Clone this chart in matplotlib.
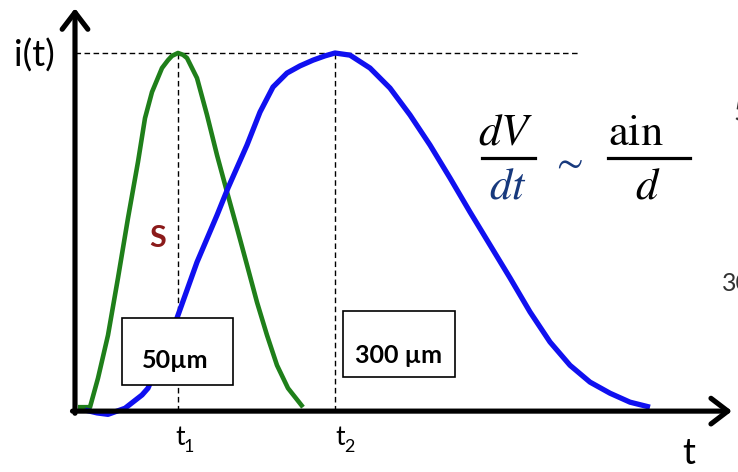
import numpy as np
import matplotlib
matplotlib.use('Agg')
import matplotlib.pyplot as plt
from matplotlib.patches import Rectangle

plt.rcParams['font.family'] = ['Lato', 'DejaVu Sans']
plt.rcParams['mathtext.fontset'] = 'stix'

# thin detector pulse (50 um)
t_thin = [0.03, 0.15, 0.23, 0.33, 0.43, 0.53, 0.63, 0.70, 0.77, 0.87, 0.93,
          0.97, 1.03, 1.08, 1.12, 1.22, 1.32, 1.42, 1.52, 1.62, 1.72, 1.82,
          1.92, 2.02, 2.13, 2.28]
i_thin = [0.011, 0.011, 0.092, 0.212, 0.372, 0.539, 0.696, 0.818, 0.891,
          0.958, 0.980, 0.992, 1.0, 0.995, 0.986, 0.930, 0.827, 0.715, 0.612,
          0.511, 0.408, 0.304, 0.212, 0.128, 0.064, 0.011]

# thick detector pulse (300 um)
t_thick = [0.10, 0.22, 0.33, 0.50, 0.67, 0.73, 0.87, 1.02, 1.22, 1.42, 1.53,
           1.72, 1.85, 1.98, 2.12, 2.25, 2.38, 2.50, 2.60, 2.75, 2.95, 3.15,
           3.35, 3.55, 3.75, 3.95, 4.15, 4.35, 4.55, 4.75, 4.95, 5.15, 5.35,
           5.55, 5.75]
i_thick = [0.003, -0.005, -0.009, 0.008, 0.045, 0.064, 0.156, 0.260, 0.416,
           0.547, 0.623, 0.743, 0.835, 0.905, 0.944, 0.964, 0.980, 0.992, 1.0,
           0.994, 0.958, 0.902, 0.827, 0.743, 0.651, 0.556, 0.464, 0.372,
           0.277, 0.193, 0.128, 0.081, 0.050, 0.025, 0.011]

t1 = 1.03
t2 = 2.60
peak = 1.0

fig = plt.figure(figsize=(7.38, 4.72), dpi=100)
ax = fig.add_axes([0, 0, 1, 1])
ax.set_xlim(-0.75, 6.63)
ax.set_ylim(-0.170, 1.148)
ax.axis('off')

# axes with arrows
arrow = dict(arrowstyle='->,head_length=0.55,head_width=0.42', lw=3.7,
             color='black', mutation_scale=22, shrinkA=0, shrinkB=0)
ax.annotate('', xy=(6.57, 0), xytext=(-0.025, 0), arrowprops=arrow, zorder=3)
ax.annotate('', xy=(0, 1.125), xytext=(0, -0.006), arrowprops=arrow, zorder=3)

# dashed guides
dash = dict(color='black', lw=1.0, ls=(0, (4, 2.5)), zorder=1)
ax.plot([0, 5.03], [peak, peak], **dash)
ax.plot([t1, t1], [0, peak], **dash)
ax.plot([t2, t2], [0, peak], **dash)

ax.plot(t_thin, i_thin, color='#1f7f1a', lw=3.3, solid_joinstyle='round',
        solid_capstyle='butt', zorder=2)
ax.plot(t_thick, i_thick, color='#1010f0', lw=3.8, solid_joinstyle='round',
        solid_capstyle='butt', zorder=2.5)

# thickness boxes
ax.add_patch(Rectangle((0.47, 0.073), 1.11, 0.187, fc='white', ec='black', lw=1.2, zorder=4))
ax.text(1.00, 0.120, '50µm', ha='center', va='baseline', fontsize=18,
        fontweight='bold', zorder=5)
ax.add_patch(Rectangle((2.68, 0.095), 1.12, 0.184, fc='white', ec='black', lw=1.2, zorder=4))
ax.text(3.23, 0.134, '300 µm', ha='center', va='baseline', fontsize=18,
        fontweight='bold', zorder=5)

ax.text(0.83, 0.483, 'S', ha='center', va='center', fontsize=22,
        fontweight='bold', color='#8b1a1a')

# axis labels
ax.text(-0.41, 0.994, 'i(t)', ha='center', va='center', fontsize=26)
ax.text(6.14, -0.118, 't', ha='center', va='center', fontsize=26)
ax.text(1.05, -0.075, 't', ha='center', va='center', fontsize=19)
ax.text(1.14, -0.100, '1', ha='center', va='center', fontsize=13)
ax.text(2.65, -0.075, 't', ha='center', va='center', fontsize=19)
ax.text(2.74, -0.100, '2', ha='center', va='center', fontsize=13)

# dV/dt ~ ain/d
navy = '#17397d'
ax.text(4.30, 0.779, r'$dV$', ha='center', va='center', fontsize=32)
ax.text(4.33, 0.628, r'$dt$', ha='center', va='center', fontsize=32, color=navy)
ax.plot([4.07, 4.60], [0.707, 0.707], color='black', lw=2.3)
ax.text(4.92, 0.696, r'$\sim$', ha='center', va='center', fontsize=28, color=navy)
ax.text(5.61, 0.777, r'$\mathrm{ain}$', ha='center', va='center', fontsize=32)
ax.text(5.73, 0.628, r'$d$', ha='center', va='center', fontsize=32)
ax.plot([5.33, 6.15], [0.707, 0.707], color='black', lw=2.3)

# text running off the right edge
ax.text(6.58, 0.832, '5', ha='left', va='center', fontsize=20, color='#333333')
ax.text(6.47, 0.357, '30', ha='left', va='center', fontsize=18, color='#333333')

fig.savefig('out.png', dpi=100)
